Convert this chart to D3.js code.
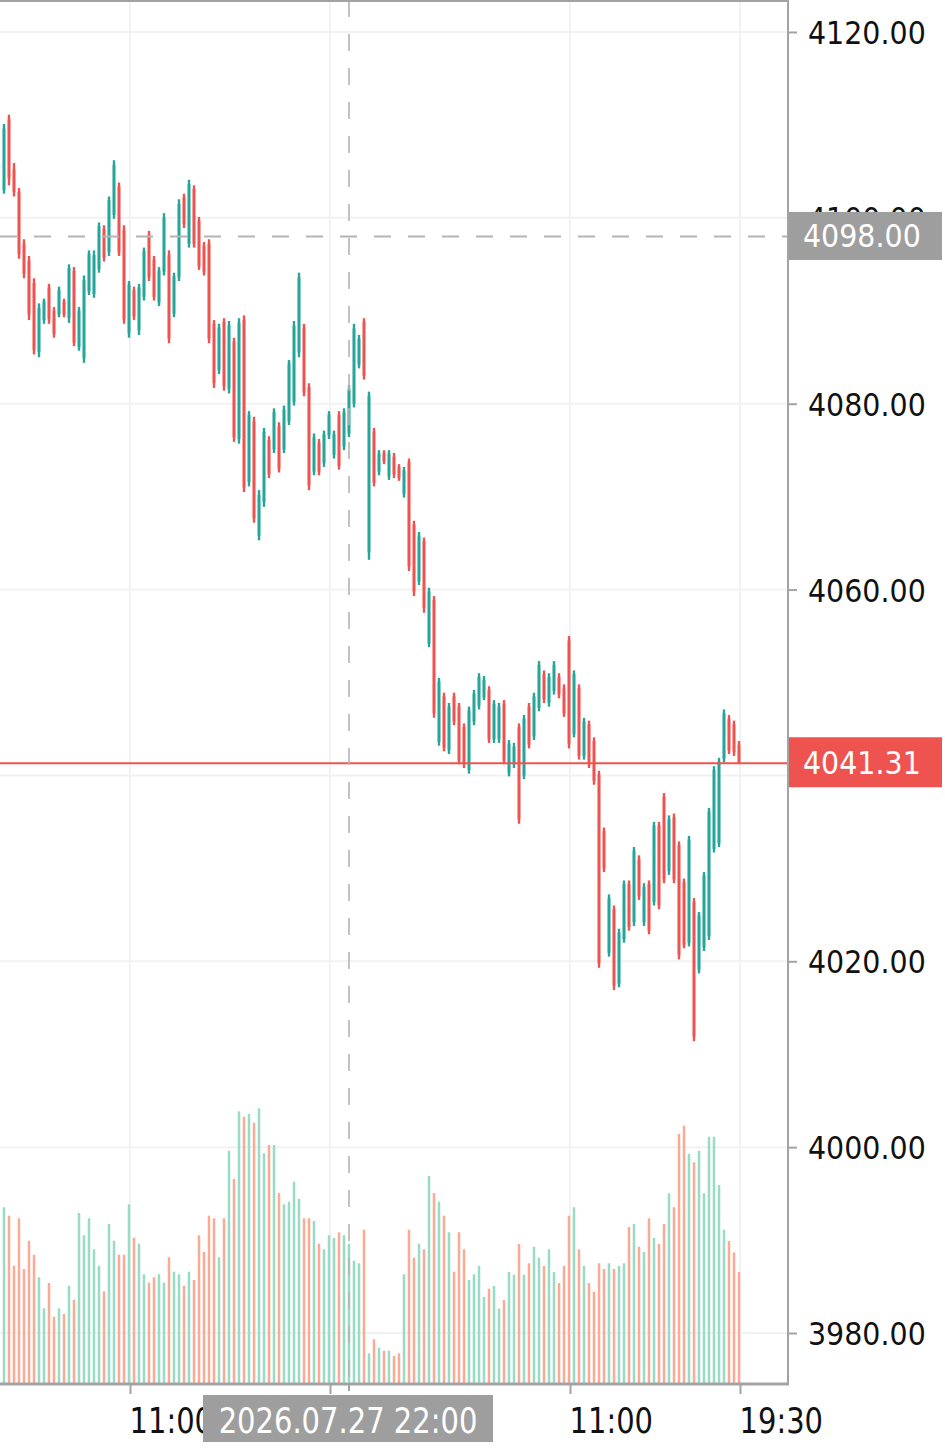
<!DOCTYPE html>
<html>
<head>
<meta charset="utf-8">
<script src="https://cdn.jsdelivr.net/npm/d3@7"></script>
<style>
  html, body { margin: 0; padding: 0; background: #ffffff; }
  svg { display: block; }
</style>
</head>
<body>
<div class="chart"></div>
<script>
// 15 minute bars, 148 of them
var opens = [
  4103.0, 4110.6, 4105.2, 4102.8, 4097.2, 4095.4, 4093.0, 4085.6, 4089.0, 4092.5,
  4090.0, 4089.6, 4091.0, 4089.2, 4094.3, 4086.1, 4084.9, 4092.1, 4091.8, 4094.5,
  4098.8, 4096.3, 4100.3, 4103.4, 4098.7, 4087.6, 4092.2, 4087.9, 4091.5, 4098.2,
  4095.5, 4090.9, 4094.2, 4096.0, 4089.7, 4093.6, 4102.2, 4097.2, 4103.1, 4099.7,
  4097.0, 4097.2, 4088.6, 4083.6, 4088.8, 4081.6, 4086.7, 4076.2, 4089.0, 4071.6,
  4078.1, 4065.8, 4069.4, 4076.1, 4075.1, 4077.6, 4075.1, 4078.1, 4080.2, 4085.5,
  4088.2, 4081.8, 4072.7, 4075.8, 4073.6, 4076.6, 4074.5, 4078.8, 4075.4, 4076.8,
  4080.0, 4084.2, 4088.8, 4064.0, 4077.0, 4072.7, 4074.7, 4072.2, 4074.3, 4073.2,
  4070.3, 4073.7, 4067.0, 4060.9, 4065.2, 4054.2, 4058.9, 4043.6, 4048.5, 4042.7,
  4048.5, 4047.4, 4045.2, 4040.6, 4045.8, 4047.5, 4048.4, 4049.2, 4043.9, 4043.9,
  4047.7, 4040.3, 4041.2, 4045.2, 4040.0, 4047.4, 4044.2, 4047.3, 4050.9, 4047.8,
  4049.1, 4050.6, 4049.4, 4054.5, 4044.5, 4049.4, 4042.1, 4045.5, 4043.7, 4040.1,
  4034.0, 4020.9, 4025.6, 4017.6, 4022.4, 4028.3, 4024.2, 4031.0, 4024.2, 4028.3,
  4026.4, 4034.6, 4037.7, 4029.7, 4035.5, 4032.5, 4028.5, 4022.0, 4026.4, 4019.1,
  4021.5, 4022.7, 4032.1, 4032.7, 4041.8, 4046.1, 4045.5, 4043.3
];
var highs = [
  4110.1, 4111.1, 4105.9, 4103.2, 4097.7, 4095.9, 4093.5, 4090.8, 4091.3, 4092.9,
  4090.4, 4092.6, 4091.3, 4095.0, 4094.7, 4090.4, 4093.8, 4096.5, 4096.5, 4099.5,
  4099.2, 4102.3, 4106.2, 4103.8, 4099.2, 4093.2, 4092.6, 4092.9, 4096.8, 4098.6,
  4095.9, 4094.7, 4100.5, 4096.5, 4094.1, 4102.0, 4102.6, 4104.1, 4103.5, 4100.1,
  4097.4, 4097.7, 4089.0, 4088.6, 4089.2, 4088.9, 4087.1, 4089.2, 4089.5, 4079.2,
  4078.6, 4070.7, 4077.4, 4076.5, 4079.5, 4078.0, 4079.8, 4084.7, 4088.9, 4094.1,
  4088.6, 4082.2, 4076.8, 4076.2, 4077.1, 4079.2, 4077.1, 4079.2, 4079.5, 4082.0,
  4088.6, 4087.4, 4089.2, 4081.3, 4077.4, 4075.0, 4075.0, 4075.0, 4074.7, 4073.5,
  4073.2, 4074.1, 4067.4, 4066.2, 4065.6, 4060.2, 4059.3, 4050.5, 4048.9, 4047.8,
  4048.9, 4047.8, 4045.6, 4047.4, 4049.2, 4051.0, 4050.7, 4049.6, 4048.1, 4047.8,
  4048.1, 4043.8, 4043.5, 4045.6, 4046.5, 4047.8, 4048.9, 4052.3, 4051.3, 4051.0,
  4052.3, 4051.0, 4049.8, 4055.0, 4051.3, 4049.8, 4046.2, 4045.9, 4044.1, 4040.5,
  4034.4, 4027.2, 4026.0, 4023.5, 4028.7, 4028.7, 4032.3, 4031.4, 4028.4, 4028.7,
  4035.0, 4035.0, 4038.1, 4035.7, 4035.9, 4032.9, 4028.9, 4033.5, 4026.8, 4025.3,
  4029.6, 4036.5, 4041.0, 4041.9, 4047.1, 4046.5, 4045.9, 4043.7
];
var lows = [
  4102.6, 4103.5, 4102.3, 4095.6, 4093.5, 4089.0, 4085.3, 4085.0, 4088.6, 4088.6,
  4087.1, 4089.3, 4089.3, 4088.7, 4086.2, 4085.7, 4084.4, 4091.7, 4091.4, 4094.1,
  4095.3, 4095.9, 4099.9, 4095.9, 4088.6, 4087.1, 4089.0, 4087.4, 4091.1, 4093.2,
  4091.1, 4090.5, 4093.8, 4086.5, 4089.3, 4093.2, 4098.9, 4096.8, 4096.8, 4094.4,
  4093.8, 4086.5, 4081.7, 4083.2, 4081.4, 4081.1, 4075.9, 4075.7, 4070.5, 4071.1,
  4067.2, 4065.3, 4068.9, 4072.0, 4074.7, 4072.6, 4074.7, 4077.7, 4079.8, 4085.0,
  4080.8, 4070.7, 4072.3, 4072.3, 4073.2, 4076.2, 4074.1, 4072.9, 4075.0, 4076.4,
  4079.6, 4083.8, 4082.6, 4063.2, 4071.1, 4072.3, 4073.5, 4071.8, 4072.0, 4071.7,
  4069.9, 4062.0, 4059.3, 4060.5, 4057.5, 4053.8, 4046.2, 4043.2, 4042.6, 4042.3,
  4045.4, 4041.2, 4040.8, 4040.2, 4045.4, 4047.1, 4048.1, 4043.5, 4043.5, 4043.5,
  4041.2, 4039.9, 4040.8, 4034.8, 4039.6, 4042.9, 4043.8, 4046.9, 4047.8, 4047.4,
  4048.7, 4048.3, 4046.3, 4042.9, 4044.1, 4041.7, 4041.7, 4040.8, 4039.0, 4019.3,
  4029.6, 4020.5, 4016.9, 4017.2, 4022.0, 4023.3, 4023.8, 4026.6, 4023.8, 4022.9,
  4026.0, 4025.6, 4028.4, 4029.3, 4028.4, 4020.2, 4021.4, 4021.6, 4011.4, 4018.7,
  4021.1, 4022.3, 4031.7, 4032.3, 4041.4, 4042.3, 4042.1, 4041.3
];
var closes = [
  4109.6, 4104.2, 4102.8, 4096.1, 4094.0, 4089.6, 4085.8, 4090.3, 4091.0, 4089.1,
  4087.5, 4092.2, 4089.6, 4094.6, 4086.6, 4090.0, 4093.3, 4096.1, 4096.0, 4099.1,
  4095.7, 4101.9, 4105.7, 4096.3, 4089.1, 4092.8, 4089.4, 4092.5, 4096.4, 4093.6,
  4091.5, 4094.3, 4100.0, 4087.0, 4093.7, 4101.5, 4099.3, 4103.6, 4097.2, 4094.8,
  4094.2, 4087.0, 4082.2, 4088.2, 4081.9, 4088.4, 4076.4, 4088.7, 4071.0, 4078.8,
  4067.7, 4070.2, 4077.0, 4072.4, 4079.1, 4073.0, 4079.4, 4084.3, 4088.4, 4093.6,
  4081.2, 4071.2, 4076.4, 4072.7, 4076.7, 4078.8, 4076.7, 4073.3, 4079.1, 4081.6,
  4088.1, 4087.0, 4083.0, 4080.8, 4071.5, 4074.6, 4073.8, 4074.6, 4072.4, 4072.0,
  4072.8, 4062.5, 4059.8, 4065.8, 4058.0, 4059.8, 4046.7, 4050.1, 4043.0, 4047.4,
  4045.8, 4041.6, 4041.2, 4047.0, 4048.8, 4050.6, 4050.3, 4043.9, 4047.7, 4047.4,
  4041.6, 4043.4, 4043.1, 4035.3, 4046.1, 4043.3, 4048.5, 4051.9, 4048.2, 4050.6,
  4051.9, 4048.7, 4046.7, 4043.4, 4050.9, 4042.1, 4045.8, 4041.2, 4039.4, 4019.8,
  4030.0, 4026.8, 4017.4, 4023.1, 4028.3, 4023.7, 4031.9, 4027.0, 4028.0, 4023.3,
  4034.6, 4026.0, 4028.8, 4035.3, 4028.8, 4020.7, 4021.8, 4033.1, 4011.9, 4024.9,
  4029.2, 4036.1, 4040.6, 4041.5, 4046.7, 4042.7, 4042.5, 4041.31
];
var volumes = [
  1767, 1683, 1183, 1657, 1150, 1433, 1293, 1067, 757, 1010,
  673, 757, 700, 983, 843, 1710, 1487, 1657, 1347, 1180,
  927, 1600, 1433, 1293, 1293, 1797, 1463, 1403, 1097, 1013,
  1067, 1097, 1013, 1267, 1123, 1097, 983, 1123, 1040, 1487,
  1320, 1683, 1657, 1267, 1657, 2333, 2050, 2727, 2673, 2700,
  2613, 2757, 2307, 2390, 2390, 1910, 1797, 1823, 2023, 1853,
  1657, 1657, 1630, 1403, 1347, 1487, 1460, 1517, 1487, 1403,
  1233, 1207, 1543, 307, 447, 363, 333, 333, 280, 307,
  1097, 1543, 1263, 1403, 1347, 2080, 1910, 1823, 1683, 1517,
  1123, 1517, 1347, 1040, 1097, 1180, 870, 953, 980, 753,
  840, 1120, 1093, 1400, 1093, 1207, 1373, 1263, 1180, 1347,
  1120, 1010, 1180, 1683, 1767, 1347, 1180, 1010, 923, 1207,
  1150, 1207, 1150, 1180, 1207, 1570, 1600, 1373, 1320, 1657,
  1460, 1400, 1600, 1907, 1767, 2500, 2583, 2300, 2217, 2333,
  1907, 2473, 2473, 1990, 1543, 1430, 1317, 1120
];

// grid rows; the 4040 label sits under the last price label so it gets no text
var priceTicks = [3980, 4000, 4020, 4040, 4060, 4080, 4100, 4120];
var priceLabelTicks = [3980, 4000, 4020, 4060, 4080, 4100, 4120];
// the tick at bar 65 is covered by the crosshair time label
var timeTicks = [25, 65, 113, 147];
var timeLabels = ["11:00", "", "11:00", "19:30"];

var crossIndex = 69, crossPrice = 4098.00, crossLabel = "2026.07.27 22:00";
var lastPrice = 4041.31;

var upColor = "#26a69a", downColor = "#ef5350";
var upVol = "#98dcc6", downVol = "#fbaa96";
var gridColor = "#f2f2f4", borderColor = "#a3a3a3";

//set dimensions for the canvas
var svgWidth = 945, svgHeight = 1451;
var plotRight = 788, plotBottom = 1385;

var svg = d3.select("div.chart")
  .append("svg")
  .attr("width", svgWidth)
  .attr("height", svgHeight);

svg.append("rect")
  .attr("width", "100%")
  .attr("height", "100%")
  .attr("fill", "#ffffff");

var x = d3.scaleLinear().domain([0, opens.length - 1]).range([4, 739]);
var y = d3.scaleLinear().domain([3980, 4120]).range([1333, 32]);
var yVol = d3.scaleLinear().domain([0, 3000]).range([1384, 1084]);

// grid
svg.append("g").selectAll("line")
  .data(priceTicks)
  .enter().append("line")
    .attr("x1", 0).attr("x2", plotRight)
    .attr("y1", function(d) { return y(d); })
    .attr("y2", function(d) { return y(d); })
    .attr("stroke", gridColor)
    .attr("stroke-width", 2);

svg.append("g").selectAll("line")
  .data(timeTicks)
  .enter().append("line")
    .attr("x1", function(d) { return x(d) + 1; })
    .attr("x2", function(d) { return x(d) + 1; })
    .attr("y1", 0).attr("y2", plotBottom)
    .attr("stroke", gridColor)
    .attr("stroke-width", 2);

// volume
svg.append("g").selectAll("rect")
  .data(volumes)
  .enter().append("rect")
    .attr("x", function(d, i) { return x(i) - 1.25; })
    .attr("width", 2.5)
    .attr("y", function(d) { return yVol(d); })
    .attr("height", function(d) { return yVol(0) - yVol(d); })
    .attr("fill", function(d, i) { return closes[i] >= opens[i] ? upVol : downVol; });

// candles
var candles = svg.append("g").selectAll("g")
  .data(opens)
  .enter().append("g");

candles.append("rect")
  .attr("x", function(d, i) { return x(i) - 1.2; })
  .attr("width", 2.4)
  .attr("y", function(d, i) { return y(highs[i]); })
  .attr("height", function(d, i) { return y(lows[i]) - y(highs[i]); })
  .attr("fill", function(d, i) { return closes[i] >= opens[i] ? upColor : downColor; });

candles.append("rect")
  .attr("x", function(d, i) { return x(i) - 1.4; })
  .attr("width", 2.8)
  .attr("y", function(d, i) { return y(Math.max(opens[i], closes[i])); })
  .attr("height", function(d, i) { return Math.max(1, Math.abs(y(opens[i]) - y(closes[i]))); })
  .attr("fill", function(d, i) { return closes[i] >= opens[i] ? upColor : downColor; });

// last price line
svg.append("line")
  .attr("x1", 0).attr("x2", plotRight)
  .attr("y1", y(lastPrice)).attr("y2", y(lastPrice))
  .attr("stroke", downColor)
  .attr("stroke-width", 2);

// crosshair
svg.append("line")
  .attr("x1", x(crossIndex)).attr("x2", x(crossIndex))
  .attr("y1", 0).attr("y2", plotBottom)
  .attr("stroke", "#b4b4b4")
  .attr("stroke-width", 1.6)
  .attr("stroke-dasharray", "17,17");

svg.append("line")
  .attr("x1", 0).attr("x2", plotRight)
  .attr("y1", y(crossPrice)).attr("y2", y(crossPrice))
  .attr("stroke", "#b4b4b4")
  .attr("stroke-width", 2)
  .attr("stroke-dasharray", "17,17");

// borders
svg.append("line")
  .attr("x1", 0).attr("x2", plotRight)
  .attr("y1", 1).attr("y2", 1)
  .attr("stroke", borderColor).attr("stroke-width", 2);

svg.append("line")
  .attr("x1", plotRight).attr("x2", plotRight)
  .attr("y1", 0).attr("y2", plotBottom)
  .attr("stroke", borderColor).attr("stroke-width", 2);

svg.append("line")
  .attr("x1", 0).attr("x2", plotRight + 1)
  .attr("y1", plotBottom - 1).attr("y2", plotBottom - 1)
  .attr("stroke", borderColor).attr("stroke-width", 3);

// price axis
var yAxis = d3.axisRight(y)
  .tickValues(priceTicks)
  .tickSize(9)
  .tickPadding(11)
  .tickFormat(function(d) { return priceLabelTicks.indexOf(d) >= 0 ? d.toFixed(2) : ""; });

var yAxisG = svg.append("g")
  .attr("transform", "translate(" + plotRight + ",0)")
  .call(yAxis);

yAxisG.select(".domain").remove();
yAxisG.selectAll(".tick line").attr("stroke", borderColor).attr("stroke-width", 2);
yAxisG.selectAll(".tick text")
  .attr("dy", null)
  .attr("y", 10.5)
  .attr("transform", "scale(1,1.1)")
  .attr("fill", "#111111")
  .style("font-family", "'DejaVu Sans', sans-serif")
  .style("font-size", "28.5px");
yAxisG.selectAll(".tick text")
  .filter(function() { return this.textContent === ""; })
  .remove();

// time axis
var xAxis = d3.axisBottom(x)
  .tickValues(timeTicks)
  .tickSize(9)
  .tickFormat(function(d, i) { return timeLabels[i]; });

var xAxisG = svg.append("g")
  .attr("transform", "translate(0," + plotBottom + ")")
  .call(xAxis);

xAxisG.select(".domain").remove();
xAxisG.selectAll(".tick line")
  .attr("x1", 1).attr("x2", 1)
  .attr("stroke", borderColor).attr("stroke-width", 2);
xAxisG.selectAll(".tick text")
  .attr("dy", null)
  .attr("y", 40)
  .attr("x", 0)
  .attr("text-anchor", "start")
  .attr("transform", "scale(1,1.2)")
  .attr("fill", "#111111")
  .style("font-family", "'DejaVu Sans', sans-serif")
  .style("font-size", "29px");
xAxisG.selectAll(".tick text")
  .filter(function() { return this.textContent === ""; })
  .remove();

// crosshair tick on time axis
svg.append("line")
  .attr("x1", x(crossIndex)).attr("x2", x(crossIndex))
  .attr("y1", plotBottom).attr("y2", plotBottom + 6)
  .attr("stroke", borderColor).attr("stroke-width", 2);

function createLabel(cx, cy, w, h, color, label, anchor, tx) {
  var g = svg.append("g");
  g.append("rect")
    .attr("x", cx).attr("y", cy - h / 2)
    .attr("width", w).attr("height", h)
    .attr("fill", color);
  g.append("text")
    .attr("x", tx)
    .attr("y", cy)
    .attr("text-anchor", anchor)
    .attr("transform", "translate(0," + (cy * -0.1) + ") scale(1,1.1)")
    .attr("dy", "0.36em")
    .attr("fill", "#ffffff")
    .style("font-family", "'DejaVu Sans', sans-serif")
    .style("font-size", "28.5px")
    .text(label);
}

// price labels on the axis
createLabel(plotRight + 1, y(crossPrice) - 0.5, 153, 48, "#9e9e9e", crossPrice.toFixed(2), "start", 803);
createLabel(plotRight + 1, y(lastPrice) - 1, 153, 50, downColor, lastPrice.toFixed(2), "start", 803);

// time label of the crosshair
var tg = svg.append("g");
tg.append("rect")
  .attr("x", x(crossIndex) - 146).attr("y", 1395)
  .attr("width", 290).attr("height", 47)
  .attr("fill", "#9e9e9e");
tg.append("text")
  .attr("x", x(crossIndex) - 1)
  .attr("y", 1433 / 1.2)
  .attr("text-anchor", "middle")
  .attr("transform", "scale(1,1.2)")
  .attr("fill", "#ffffff")
  .style("font-family", "'DejaVu Sans', sans-serif")
  .style("font-size", "29px")
  .text(crossLabel);
</script>
</body>
</html>
